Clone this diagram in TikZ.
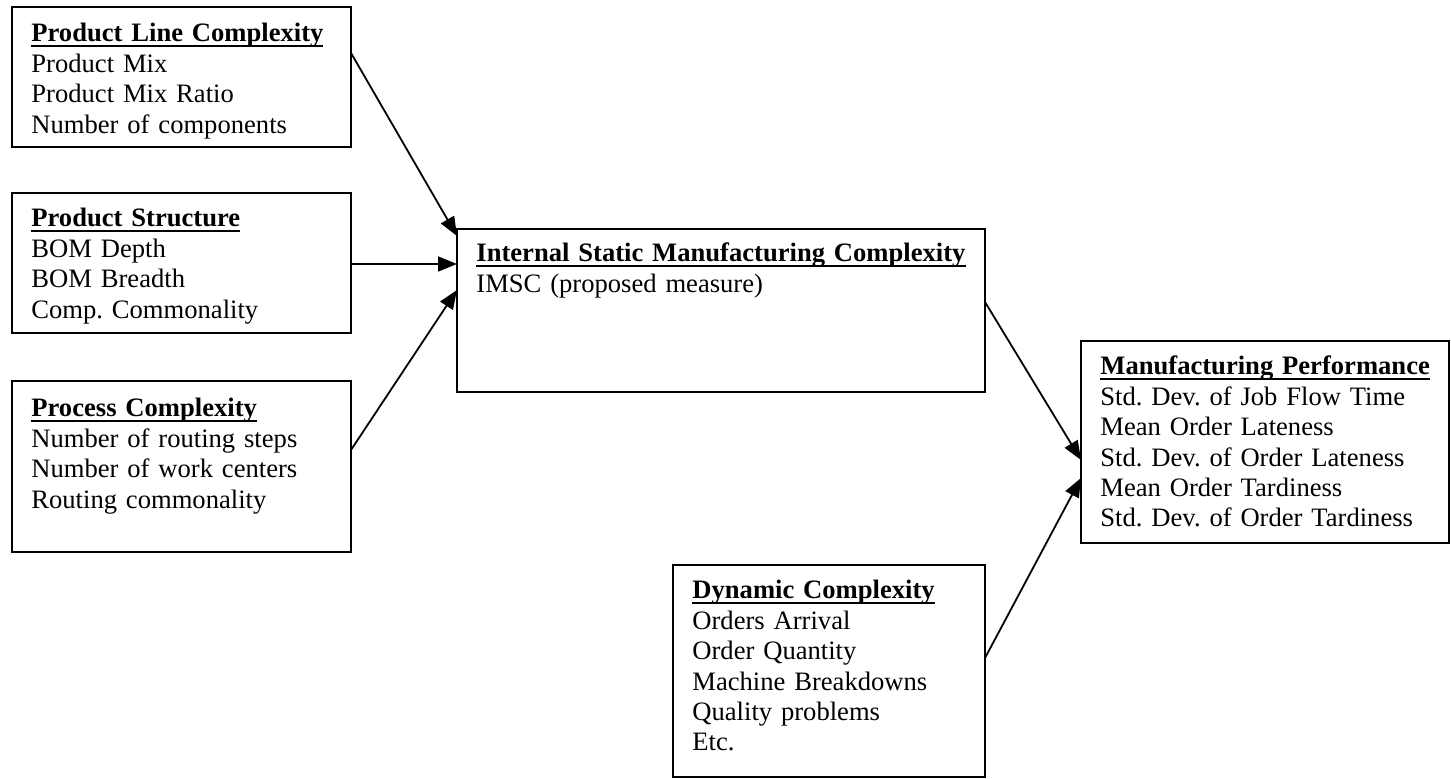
\documentclass[tikz,border=0pt]{standalone}
\usepackage{fontspec}
\setmainfont{Liberation Serif}
\usetikzlibrary{arrows.meta,calc}
\frenchspacing
% bold heading with a solid underline at a fixed depth
\newcommand\boxhead[1]{\setbox0\hbox{\bfseries #1}\rlap{\rule[-2.7pt]{\wd0}{1.2pt}}\box0}
\begin{document}
\begin{tikzpicture}[x=0.5pt,y=-0.5pt,
  frame/.style={draw, line width=1.2pt, rectangle, anchor=north west, inner sep=0pt, outer sep=0pt},
  body/.style={anchor=base west, inner sep=0pt, align=left, text width=200pt,
               font=\fontsize{13.3}{15.2}\selectfont},
  link/.style={line width=0.9pt, -{Triangle[length=9.5pt,width=7.5pt]}}]
\useasboundingbox (0,0) rectangle (1451,779);

% frames
\node[frame, minimum width=169.5pt, minimum height=70pt]   (plc) at (12,7) {};
\node[frame, minimum width=169.5pt, minimum height=70pt]   (ps)  at (12,193) {};
\node[frame, minimum width=169.5pt, minimum height=85.5pt] (pc)  at (12,381) {};
\node[frame, minimum width=264pt,   minimum height=81.5pt] (isc) at (457,229) {};
\node[frame, minimum width=184pt,   minimum height=101pt]  (mp)  at (1081,341) {};
\node[frame, minimum width=156pt,   minimum height=106pt]  (dc)  at (673,565) {};

% contents
\node[body] (plc-text) at (31,42) {\boxhead{Product Line Complexity}\\Product Mix\\Product Mix Ratio\\Number of components};
\node[body] (ps-text) at (31,227) {\boxhead{Product Structure}\\BOM Depth\\BOM Breadth\\Comp. Commonality};
\node[body] (pc-text) at (31,417) {\boxhead{Process Complexity}\\Number of routing steps\\Number of work centers\\Routing commonality};
\node[body, text width=260pt] (isc-text) at (476,262) {\boxhead{Internal Static Manufacturing Complexity}\\IMSC (proposed measure)};
\node[body] (mp-text) at (1100,375) {\boxhead{Manufacturing Performance}\\Std. Dev. of Job Flow Time\\Mean Order Lateness\\Std. Dev. of Order Lateness\\Mean Order Tardiness\\Std. Dev. of Order Tardiness};
\node[body] (dc-text) at (692,599) {\boxhead{Dynamic Complexity}\\Orders Arrival\\Order Quantity\\Machine Breakdowns\\Quality problems\\Etc.};

% connectors
\draw[link] ($(plc.north east)+(0,46)$) -- ($(isc.north west)+(0,7)$);
\draw[link] ($(ps.north east)+(0,71)$)  -- ($(isc.north west)+(0,35)$);
\draw[link] ($(pc.north east)+(0,69)$)  -- ($(isc.north west)+(0,61)$);
\draw[link] ($(isc.north east)+(0,73)$) -- ($(mp.north west)+(0,119)$);
\draw[link] ($(dc.north east)+(0,93)$)  -- ($(mp.north west)+(0,137)$);
\end{tikzpicture}
\end{document}
